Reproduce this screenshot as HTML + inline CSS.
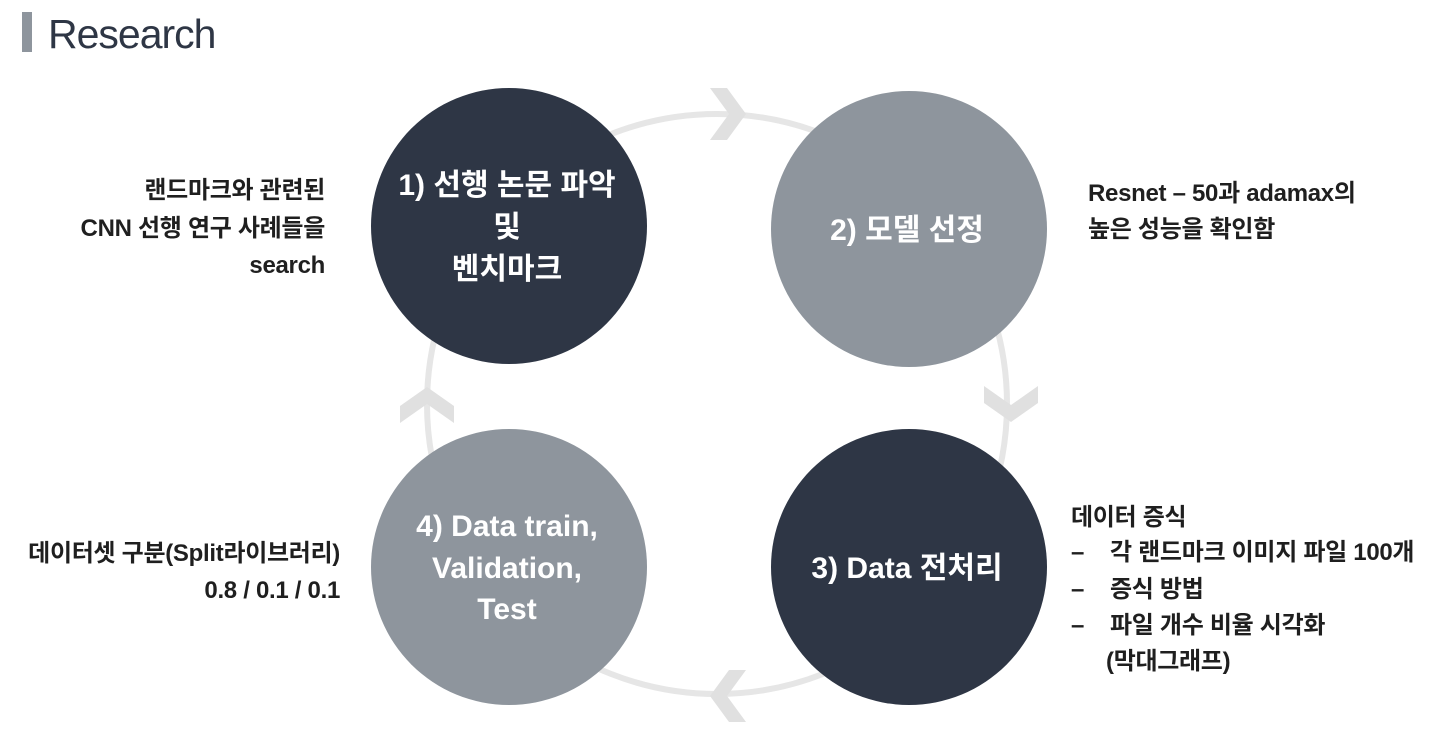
<!DOCTYPE html>
<html><head><meta charset="utf-8"><style>
html,body{margin:0;padding:0;background:#fff;}
svg{display:block}
text{font-family:"Liberation Sans","Noto Sans CJK KR",sans-serif;}
.w{fill:#fff;font-size:30px;font-weight:600;}
.s{fill:#1f1f1f;font-size:24px;font-weight:600;letter-spacing:-0.3px;}
</style></head><body>
<svg width="1445" height="741" viewBox="0 0 1445 741" xmlns="http://www.w3.org/2000/svg">
<rect x="22" y="12" width="10" height="40" fill="#8e959d"/>
<text x="48" y="48" font-size="41" fill="#2e3645" style="letter-spacing:-1px">Research</text>
<ellipse cx="717" cy="404" rx="290" ry="290" fill="none" stroke="#e6e6e6" stroke-width="6"/>
<g fill="#e0e0e0">
<polygon points="710,88 727,88 746,114 727,140 710,140 729,114"/>
<polygon points="984,386 984,403 1011,422 1038,403 1038,386 1011,405"/>
<polygon points="746,670 729,670 710,696 729,722 746,722 727,696"/>
<polygon points="400,423 400,406 427,387 454,406 454,423 427,404"/>
</g>
<circle cx="509" cy="226" r="138" fill="#2e3645"/>
<circle cx="909" cy="229" r="138" fill="#8e959d"/>
<circle cx="909" cy="567" r="138" fill="#2e3645"/>
<circle cx="509" cy="567" r="138" fill="#8e959d"/>
<g class="w" text-anchor="middle">
<text x="507" y="195">1)  선행 논문 파악</text>
<text x="507" y="237">및</text>
<text x="507" y="279">벤치마크</text>
<text x="907" y="240">2) 모델 선정</text>
<text x="907" y="578">3) Data 전처리</text>
<text x="507" y="536">4) Data train,</text>
<text x="507" y="578">Validation,</text>
<text x="507" y="619">Test</text>
</g>
<g class="s">
<text x="325" y="198" text-anchor="end">랜드마크와 관련된</text>
<text x="325" y="236" text-anchor="end">CNN 선행 연구 사례들을</text>
<text x="325" y="273" text-anchor="end">search</text>
<text x="1088" y="201">Resnet – 50과 adamax의</text>
<text x="1088" y="237">높은 성능을 확인함</text>
<text x="340" y="561" text-anchor="end">데이터셋 구분(Split라이브러리)</text>
<text x="340" y="598" text-anchor="end">0.8 / 0.1 / 0.1</text>
<text x="1071" y="525">데이터 증식</text>
<text x="1071" y="560">–</text><text x="1110" y="560">각 랜드마크 이미지 파일 100개</text>
<text x="1071" y="597">–</text><text x="1110" y="597">증식 방법</text>
<text x="1071" y="633">–</text><text x="1110" y="633">파일 개수 비율 시각화</text>
<text x="1106" y="669">(막대그래프)</text>
</g>
</svg>
</body></html>
